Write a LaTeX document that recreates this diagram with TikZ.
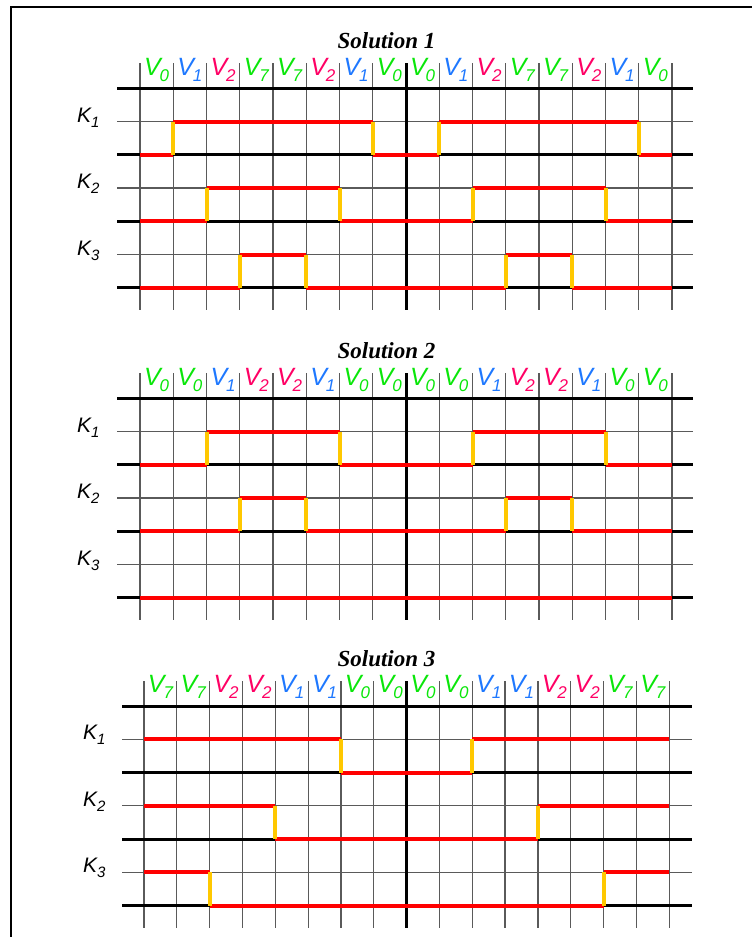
\documentclass[tikz,border=0pt]{standalone}
\usepackage{fontspec}
\setmainfont{Liberation Sans}
\newfontfamily\titlefont{Liberation Serif}
\definecolor{vgreen}{RGB}{10,230,10}
\definecolor{vblue}{RGB}{30,120,255}
\definecolor{vred}{RGB}{255,0,100}
\definecolor{sigred}{RGB}{255,0,0}
\definecolor{sigyel}{RGB}{255,200,0}
\definecolor{gridgray}{RGB}{90,90,90}
\tikzset{
  thinv/.style={draw=gridgray, line width=1.3pt},
  centerv/.style={draw=black, line width=3pt},
  thinh/.style={draw=gridgray, line width=1.2pt},
  thickh/.style={draw=black, line width=3pt},
  sigline/.style={draw=sigred, line width=4pt},
  transline/.style={draw=sigyel, line width=4pt},
  vlabel/.style={anchor=base, inner sep=0pt, font=\fontsize{25}{25}\selectfont\itshape},
  klabel/.style={anchor=base west, inner sep=0pt, font=\fontsize{21}{21}\selectfont\itshape},
  titlelabel/.style={anchor=base, inner sep=0pt, font=\titlefont\bfseries\itshape\fontsize{23}{23}\selectfont},
  frameline/.style={draw=black, line width=2pt}
}
\newcommand\vlab[2]{\textcolor{#1}{V\kern-1pt\raisebox{-6pt}{\fontsize{17}{17}\selectfont #2}}}
\newcommand\klab[1]{K\raisebox{-5pt}{\fontsize{15}{15}\selectfont #1}}
\newcommand\gridpanel{%
  \foreach \j in {1,3,5}{\draw[thinh] (\HL,\Y+\j*\R) -- (\HR,\Y+\j*\R);}
  \foreach \i in {0,...,16}{%
    \ifnum\i=8
      \draw[centerv] (\X+\i*\D,\Y-25) -- (\X+\i*\D,\Y+6*\R+22);
    \else
      \draw[thinv] (\X+\i*\D,\Y-25) -- (\X+\i*\D,\Y+6*\R+22);
    \fi}
  \foreach \j in {0,2,4,6}{\draw[thickh] (\HL,\Y+\j*\R) -- (\HR,\Y+\j*\R);}
}
\newcommand\wave[2]{%
  \pgfmathsetmacro\yh{\Y+(2*#1-1)*\R}%
  \pgfmathsetmacro\yl{\Y+2*#1*\R}%
  \foreach \s [count=\i from 0] in {#2}{%
    \pgfmathsetmacro\xa{\X+\i*\D}%
    \pgfmathsetmacro\xb{\X+(\i+1)*\D}%
    \ifnum\s=1
      \draw[sigline] (\xa,\yh) -- (\xb,\yh);
    \else
      \draw[sigline] (\xa,\yl) -- (\xb,\yl);
    \fi}
  \foreach \s [count=\i from 0, remember=\s as \p (initially 9)] in {#2}{%
    \ifnum\p=9 \else\ifnum\s=\p \else
      \pgfmathsetmacro\xa{\X+\i*\D}%
      \draw[transline] (\xa,\yh) -- (\xa,\yl);
    \fi\fi}
}
\newcommand\vlabels[1]{%
  \foreach \c/\n [count=\i from 0] in {#1}{%
    \node[vlabel] (v\i) at (\X+\i*\D+0.5*\D,\Y-13.3) {\vlab{\c}{\n}};}
}
\newcommand\klabels[1]{%
  \foreach \k in {1,2,3}{%
    \node[klabel] (k\k) at (#1,\Y+2*\k*\R-\R+0.5) {\klab{\k}};}
}
\begin{document}
\begin{tikzpicture}[x=1pt,y=-1pt]
\useasboundingbox (0,0) rectangle (752,937);
\draw[frameline] (11,945) -- (11,7.3) -- (760,7.3);
% Panel 1
\def\X{140}\def\D{33.25}\def\Y{88.3}\def\R{33.25}\def\HL{117}\def\HR{693}
\gridpanel
\wave{1}{0,1,1,1,1,1,1,0,0,1,1,1,1,1,1,0}
\wave{2}{0,0,1,1,1,1,0,0,0,0,1,1,1,1,0,0}
\wave{3}{0,0,0,1,1,0,0,0,0,0,0,1,1,0,0,0}
\vlabels{vgreen/0,vblue/1,vred/2,vgreen/7,vgreen/7,vred/2,vblue/1,vgreen/0,vgreen/0,vblue/1,vred/2,vgreen/7,vgreen/7,vred/2,vblue/1,vgreen/0}
\klabels{77}
\node[titlelabel] (t1) at (386.5,\Y-40) {Solution 1};
% Panel 2
\def\X{140}\def\D{33.25}\def\Y{398.3}\def\R{33.25}\def\HL{117}\def\HR{693}
\gridpanel
\wave{1}{0,0,1,1,1,1,0,0,0,0,1,1,1,1,0,0}
\wave{2}{0,0,0,1,1,0,0,0,0,0,0,1,1,0,0,0}
\wave{3}{0,0,0,0,0,0,0,0,0,0,0,0,0,0,0,0}
\vlabels{vgreen/0,vgreen/0,vblue/1,vred/2,vred/2,vblue/1,vgreen/0,vgreen/0,vgreen/0,vgreen/0,vblue/1,vred/2,vred/2,vblue/1,vgreen/0,vgreen/0}
\klabels{77}
\node[titlelabel] (t2) at (386.5,\Y-40) {Solution 2};
% Panel 3
\def\X{144}\def\D{32.83}\def\Y{706}\def\R{33.28}\def\HL{122}\def\HR{692}
\gridpanel
\wave{1}{1,1,1,1,1,1,0,0,0,0,1,1,1,1,1,1}
\wave{2}{1,1,1,1,0,0,0,0,0,0,0,0,1,1,1,1}
\wave{3}{1,1,0,0,0,0,0,0,0,0,0,0,0,0,1,1}
\vlabels{vgreen/7,vgreen/7,vred/2,vred/2,vblue/1,vblue/1,vgreen/0,vgreen/0,vgreen/0,vgreen/0,vblue/1,vblue/1,vred/2,vred/2,vgreen/7,vgreen/7}
\klabels{83}
\node[titlelabel] (t3) at (386.5,\Y-40) {Solution 3};
\end{tikzpicture}
\end{document}
